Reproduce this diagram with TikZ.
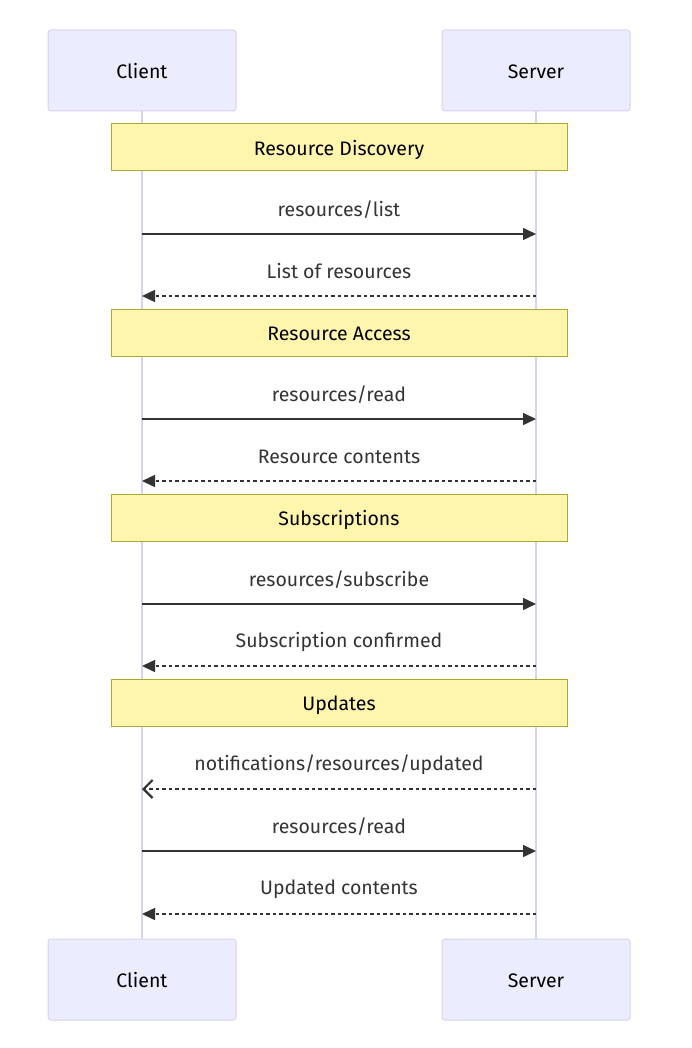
\documentclass[tikz,border=0pt]{standalone}
\usepackage{fontspec}
\setmainfont{Fira Sans}
\usepackage{tikz}
\usetikzlibrary{arrows.meta, positioning}
\definecolor{actorFill}{HTML}{ECECFF}
\definecolor{actorLine}{HTML}{D9D0F2}
\definecolor{noteFill}{HTML}{FFF5AD}
\definecolor{noteLine}{HTML}{AAAA33}
\definecolor{msgText}{HTML}{333333}
\newcommand{\boxlbl}[1]{\raisebox{-8.2pt}[0pt][0pt]{#1}}
\tikzset{
  actor/.style={draw=actorLine, fill=actorFill, rounded corners=3pt, line width=1pt,
    minimum width=188pt, minimum height=81pt, inner sep=0pt, font=\fontsize{19.5}{23}\selectfont},
  notebox/.style={draw=noteLine, fill=noteFill, line width=1pt,
    minimum width=456pt, minimum height=47pt, inner sep=0pt, font=\fontsize{19.5}{23}\selectfont},
  msg/.style={msgText, font=\fontsize{19.5}{23}\selectfont, inner sep=0pt},
  call/.style={draw=msgText, line width=1.5pt, -{Triangle[length=13pt,width=12pt]}},
  reply/.style={draw=msgText, line width=1.5pt, dash pattern=on 3.5pt off 3pt, -{Triangle[length=13pt,width=12pt]}},
  notify/.style={draw=msgText, line width=1.5pt, dash pattern=on 3.5pt off 3pt,
    -{Straight Barb[length=9pt, width=18pt, line width=2.2pt, sharp]}}
}

\begin{document}
\begin{tikzpicture}[x=1pt, y=-1pt]
        \useasboundingbox (0,0) rectangle (692,1048);
        % lifelines
        \draw[actorLine, line width=2pt] (142,111) -- (142,939);
        \draw[actorLine, line width=2pt] (536,111) -- (536,939);
        % actors
        \node[actor] (clientTop) at (142,70.5) {\boxlbl{Client}};
        \node[actor] (serverTop) at (536,70.5) {\boxlbl{Server}};
        \node[actor] (clientBot) at (142,979.5) {\boxlbl{Client}};
        \node[actor] (serverBot) at (536,979.5) {\boxlbl{Server}};
        % notes
        \node[notebox] (discovery) at (339,147.5) {\boxlbl{Resource Discovery}};
        \node[notebox] (access) at (339,332.5) {\boxlbl{Resource Access}};
        \node[notebox] (subs) at (339,517.5) {\boxlbl{Subscriptions}};
        \node[notebox] (updates) at (339,702.5) {\boxlbl{Updates}};
        % anchor points on the lifelines
        \coordinate (c1) at (142,234); \coordinate (s1) at (536,234);
        \coordinate (c2) at (142,296); \coordinate (s2) at (536,296);
        \coordinate (c3) at (142,419); \coordinate (s3) at (536,419);
        \coordinate (c4) at (142,481); \coordinate (s4) at (536,481);
        \coordinate (c5) at (142,604); \coordinate (s5) at (536,604);
        \coordinate (c6) at (142,666); \coordinate (s6) at (536,666);
        \coordinate (c7) at (142,789); \coordinate (s7) at (536,789);
        \coordinate (c8) at (142,851); \coordinate (s8) at (536,851);
        \coordinate (c9) at (142,914); \coordinate (s9) at (536,914);
        % messages
        \draw[call] (c1) -- (s1);
        \node[msg] (m1) at (339,209.5) {resources/list};
        \draw[reply] (s2) -- (c2);
        \node[msg] (m2) at (339,271.5) {List of resources};
        \draw[call] (c3) -- (s3);
        \node[msg] (m3) at (339,394.5) {resources/read};
        \draw[reply] (s4) -- (c4);
        \node[msg] (m4) at (339,456.5) {Resource contents};
        \draw[call] (c5) -- (s5);
        \node[msg] (m5) at (339,579.5) {resources/subscribe};
        \draw[reply] (s6) -- (c6);
        \node[msg] (m6) at (339,641.5) {Subscription confirmed};
        \draw[notify] (s7) -- (c7);
        \node[msg] (m7) at (339,764.5) {notifications/resources/updated};
        \draw[call] (c8) -- (s8);
        \node[msg] (m8) at (339,826.5) {resources/read};
        \draw[reply] (s9) -- (c9);
        \node[msg] (m9) at (339,889.5) {Updated contents};
    \end{tikzpicture}
\end{document}
